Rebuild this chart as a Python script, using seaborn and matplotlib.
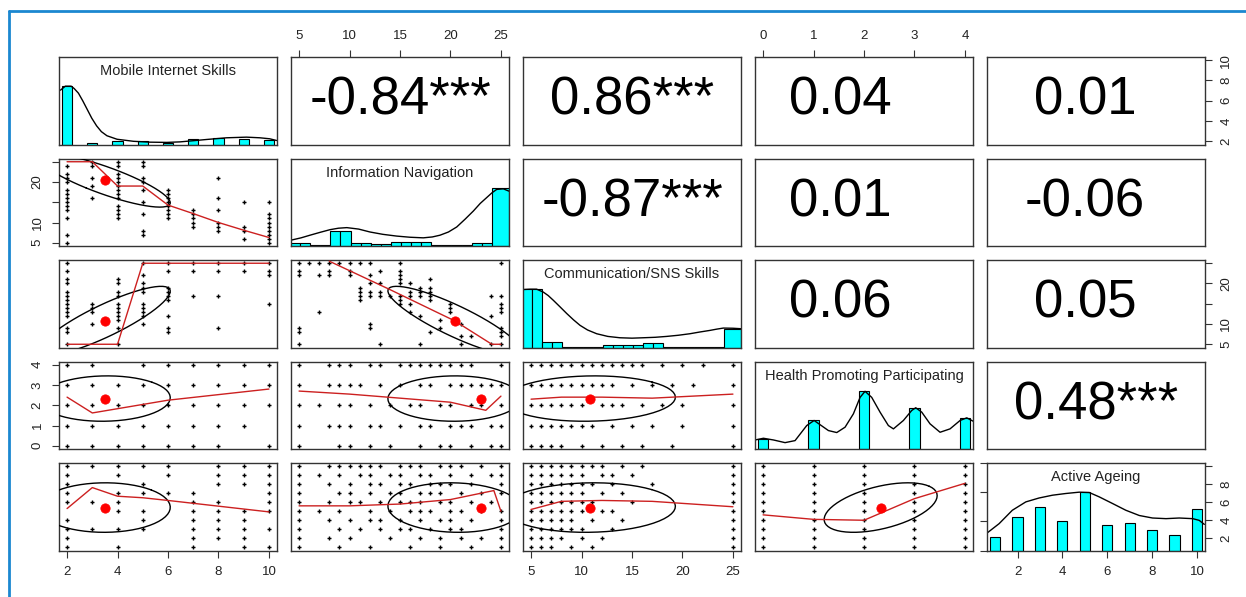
import numpy as np
import matplotlib
matplotlib.use("Agg")
import matplotlib.pyplot as plt
from matplotlib.lines import Line2D
import seaborn as sns

sns.set_theme(style="ticks")
plt.rcParams["font.family"] = ["Liberation Sans", "DejaVu Sans"]

# ---------------- data ----------------
var_names = ["Mobile Internet Skills", "Information Navigation",
             "Communication/SNS Skills", "Health Promoting Participating",
             "Active Ageing"]
var_ranges = [(2, 10), (5, 25), (5, 25), (0, 4), (1, 10)]
var_means = [3.49, 20.4, 10.8, 2.33, 5.41]
var_sds = [2.6, 6.6, 8.5, 1.12, 2.75]
# red mean markers whose position differs from the ellipse centre in the picture
dot_override = {(3, 1): (23.0, 2.33), (4, 1): (23.0, 5.41)}

# correlations (upper triangle) -> text
corr_r = {(0, 1): -0.84, (0, 2): 0.86, (0, 3): 0.04, (0, 4): 0.01,
          (1, 2): -0.87, (1, 3): 0.01, (1, 4): -0.06,
          (2, 3): 0.06, (2, 4): 0.05, (3, 4): 0.48}
corr_stars = {(0, 1): "***", (0, 2): "***", (1, 2): "***", (3, 4): "***"}

# diagonal histograms (relative heights) and density curves
mob_bar_x = [2, 3, 4, 5, 6, 7, 8, 9, 10]
mob_bar_h = [1.0, 0.03, 0.057, 0.057, 0.03, 0.092, 0.11, 0.10, 0.07]
mob_dens_x = [1.735, 1.93, 2.16, 2.28, 2.45, 2.62, 2.8, 2.98, 3.17, 3.36, 3.58, 3.98, 4.63,
              5.29, 5.95, 6.48, 7.0, 7.53, 8.32, 9.11, 9.64, 10.03, 10.3]
mob_dens_y = [0.931, 1.0, 1.0, 0.96, 0.88, 0.75, 0.60, 0.45, 0.32, 0.22, 0.15, 0.09, 0.055,
              0.04, 0.036, 0.045, 0.065, 0.086, 0.115, 0.126, 0.115, 0.098, 0.069]

bin_edges_5_25 = [4.1, 5.1, 6.1, 7.1, 8.1, 9.1, 10.1, 11.1, 12.1, 13.1, 14.1, 15.1,
                  16.1, 17.1, 18.1, 19.1, 20.1, 21.1, 22.1, 23.1, 24.1, 25.8]
nav_bar_h = [0.045, 0.045, 0.01, 0.01, 0.25, 0.25, 0.056, 0.056, 0.035, 0.035, 0.07,
             0.07, 0.07, 0.07, 0.01, 0.01, 0.01, 0.01, 0.045, 0.045, 1.0]
nav_dens_x = [4.2, 5.2, 6.08, 7.1, 8.07, 8.9, 9.73, 10.9, 12.03, 13.3, 14.67, 16.0, 17.31, 18.2,
              18.96, 19.8, 20.62, 21.45, 22.27, 22.95, 23.59, 24.1, 24.58, 25.24, 25.8]
nav_dens_y = [0.10, 0.14, 0.185, 0.235, 0.28, 0.305, 0.315, 0.29, 0.24, 0.20, 0.17, 0.15, 0.14,
              0.155, 0.185, 0.24, 0.326, 0.46, 0.60, 0.73, 0.83, 0.91, 0.97, 0.98, 0.94]

com_bar_h = [1.0, 1.0, 0.1, 0.1, 0.01, 0.01, 0.01, 0.01, 0.04, 0.04, 0.04, 0.04,
             0.07, 0.07, 0.01, 0.01, 0.01, 0.01, 0.01, 0.01, 0.31]
com_dens_x = [4.2, 4.9, 5.55, 6.21, 6.7, 7.2, 7.85, 8.53, 9.2, 9.85, 10.6, 11.5, 12.6, 13.8,
              15.0, 16.12, 17.3, 18.43, 19.6, 20.74, 21.7, 22.72, 23.4, 24.05, 25.0, 25.8]
com_dens_y = [0.994, 1.0, 1.0, 0.95, 0.89, 0.81, 0.70, 0.583, 0.475, 0.38, 0.30, 0.236, 0.19,
              0.167, 0.16, 0.167, 0.175, 0.19, 0.21, 0.236, 0.265, 0.293, 0.315, 0.333, 0.33, 0.322]

hea_bar_x = [0, 1, 2, 3, 4]
hea_bar_h = [0.18, 0.49, 1.0, 0.71, 0.53]
hea_dens_x = [-0.159, 0.007, 0.205, 0.436, 0.634, 0.865, 1.011, 1.162, 1.295, 1.46, 1.625,
              1.79, 1.922, 2.021, 2.153, 2.318, 2.483, 2.583, 2.781, 2.946, 3.025, 3.144,
              3.309, 3.507, 3.705, 3.904, 4.036, 4.161]
hea_dens_y = [0.155, 0.184, 0.155, 0.109, 0.144, 0.402, 0.489, 0.397, 0.316, 0.282, 0.374,
              0.603, 0.885, 0.989, 0.885, 0.632, 0.402, 0.345, 0.489, 0.661, 0.707, 0.632,
              0.431, 0.287, 0.345, 0.489, 0.534, 0.477]

act_bar_x = [1, 2, 3, 4, 5, 6, 7, 8, 9, 10]
act_bar_h = [0.23, 0.575, 0.747, 0.50, 1.0, 0.44, 0.477, 0.36, 0.27, 0.718]
act_dens_x = [0.6, 1.18, 1.77, 2.37, 2.96, 3.56, 4.15, 4.75, 5.2, 5.64, 6.24, 6.83, 7.43, 8.02,
              8.62, 9.21, 9.81, 10.1, 10.33]
act_dens_y = [0.287, 0.46, 0.69, 0.833, 0.90, 0.948, 0.977, 1.0, 0.994, 0.92, 0.805, 0.69, 0.60,
              0.557, 0.546, 0.557, 0.546, 0.517, 0.448]

# lower panels: scatter points, keyed by x value -> list of y values
pts_nav_mob = {2: [24, 22, 21, 20, 18, 17, 16, 15, 14, 13, 11, 7, 5], 3: [25, 24, 21, 19, 16],
               4: [25, 24, 22, 21, 20, 19, 18, 17, 16, 14, 13, 12, 11],
               5: [25, 24, 21, 20, 18, 15, 12, 8, 7], 6: [18, 17, 16, 15, 14, 13, 12, 11],
               7: [13, 12, 11, 10, 9], 8: [21, 16, 13, 10, 9, 8], 9: [15, 9, 8, 6],
               10: [15, 12, 11, 10, 9, 8, 7, 6, 5]}
pts_com_mob = {2: [25, 23, 21, 20, 18, 17, 16, 15, 14, 13, 12, 9, 8, 5], 3: [15, 14, 13, 10],
               4: [21, 20, 18, 17, 15, 14, 13, 12, 11, 9, 5],
               5: [25, 22, 20, 19, 18, 15, 14, 13, 12, 10], 6: [25, 23, 19, 18, 17, 16, 12, 9, 8],
               7: [25, 23, 17], 8: [25, 23, 17, 9], 9: [25, 23], 10: [25, 23, 22, 15]}
pts_hea_mob = {2: [0, 1, 2, 3, 4], 3: [0, 1, 2, 3, 4], 4: [0, 1, 2, 3], 5: [0, 1, 2, 3, 4],
               6: [0, 1, 2, 3, 4], 7: [0, 1, 2, 3, 4], 8: [0, 1, 2, 3, 4], 9: [1, 2, 3, 4],
               10: [0, 2, 3, 4]}
pts_act_mob = {2: [10, 9, 8, 7, 6, 4, 3, 2, 1], 3: [10, 6, 3], 4: [10, 9, 7, 6, 5, 3, 1],
               5: [10, 8, 7, 5, 4, 3], 6: [10, 9, 7], 7: [7, 6, 5, 4, 3, 2, 1],
               8: [10, 9, 8, 6, 5, 4, 3, 2], 9: [10, 9, 8, 5, 4, 3, 2, 1],
               10: [10, 9, 8, 7, 6, 5, 3, 1]}
# keyed by y value -> list of x values
pts_com_nav = {25: [5, 6, 7, 8, 9, 10, 11, 12, 15, 25], 23: [5, 8, 10, 13, 15], 22: [5, 7, 8, 10, 12, 15],
               21: [15, 18], 20: [12, 13, 15, 16], 19: [11, 17, 18], 18: [11, 12, 13, 16, 17, 18],
               17: [11, 12, 13, 14, 15, 16, 17, 18, 24, 25], 16: [11, 15, 18], 15: [15, 16, 20, 25],
               14: [20, 25], 13: [7, 16, 20, 25], 12: [17, 24], 11: [19], 10: [12, 21],
               9: [5, 12, 19, 25], 8: [5, 18, 25], 7: [21, 22, 25], 5: [5, 13, 17, 21, 24, 25]}
pts_hea_nav = {4: [5, 8, 9, 10, 12, 13, 15, 16, 17, 18, 19, 20, 21, 22, 25],
               3: [5, 8, 9, 10, 11, 13, 15, 17, 18, 20, 21, 22, 23, 24, 25],
               2: [5, 7, 9, 10, 12, 14, 16, 17, 19, 20, 22, 23, 25],
               1: [5, 8, 9, 10, 12, 13, 15, 17, 18, 20, 21, 22, 24, 25],
               0: [5, 9, 10, 12, 14, 17, 19, 20, 22, 24, 25]}
pts_act_nav = {10: [5, 8, 9, 10, 11, 12, 13, 15, 16, 17, 19, 20, 21, 23, 25],
               9: [5, 7, 9, 11, 12, 14, 15, 17, 18, 20, 22, 24, 25],
               8: [5, 8, 10, 12, 13, 15, 16, 18, 19, 20, 22, 25],
               7: [5, 9, 10, 12, 14, 15, 17, 18, 19, 21, 23, 25],
               6: [5, 8, 10, 11, 13, 15, 16, 17, 19, 20, 22, 24],
               5: [5, 7, 9, 12, 14, 16, 17, 18, 20, 21, 23, 25],
               4: [5, 8, 10, 12, 13, 15, 17, 19, 20, 22, 25],
               3: [5, 9, 11, 13, 15, 16, 18, 20, 21, 25],
               2: [5, 8, 10, 14, 17, 19, 21, 23, 25], 1: [5, 9, 12, 16, 19, 22, 25]}
pts_hea_com = {4: [5, 6, 7, 8, 9, 10, 11, 12, 13, 14, 15, 16, 18, 20, 22, 25],
               3: [5, 6, 7, 8, 9, 10, 11, 12, 13, 15, 17, 19, 21, 25],
               2: [5, 6, 7, 8, 9, 10, 12, 13, 14, 16, 18, 20, 25],
               1: [5, 6, 7, 8, 9, 10, 11, 13, 15, 17, 20, 25],
               0: [5, 6, 7, 8, 10, 12, 14, 16, 19, 25]}
pts_act_com = {10: [5, 6, 7, 8, 9, 10, 11, 12, 14, 16, 25], 9: [5, 6, 7, 8, 9, 10, 12, 13, 15, 25],
               8: [5, 6, 7, 8, 9, 10, 11, 13, 17, 25], 7: [5, 6, 7, 8, 9, 10, 12, 14, 25],
               6: [5, 6, 7, 8, 9, 10, 11, 15, 25], 5: [5, 6, 7, 8, 9, 10, 12, 13, 25],
               4: [5, 6, 7, 8, 9, 11, 14, 25], 3: [5, 6, 7, 8, 9, 10, 13, 25],
               2: [5, 6, 7, 8, 10, 12, 25], 1: [5, 6, 7, 9, 11, 25]}
pts_act_hea = {0: [10, 9, 8, 7, 6, 5, 4, 3, 2, 1], 1: [10, 9, 8, 7, 6, 5, 4, 3, 2, 1],
               2: [10, 9, 8, 7, 6, 5, 4, 3, 2, 1], 3: [10, 9, 8, 7, 6, 5, 4, 3, 2, 1],
               4: [10, 9, 8, 7, 6, 5, 4, 3, 2, 1]}

# loess smoothers (x list, y list)
sm_nav_mob = ([2, 3, 4, 5, 6, 7, 8, 9, 10], [25, 25, 19, 19, 14.3, 12.2, 10, 8.1, 6.3])
sm_com_mob = ([2, 4, 5, 10], [5, 5, 25, 25])
sm_hea_mob = ([2, 3, 6, 10], [2.4, 1.62, 2.25, 2.8])
sm_act_mob = ([2, 3, 4, 5, 6, 10], [5.3, 7.63, 6.67, 6.5, 6.2, 4.93])
sm_com_nav = ([8, 14, 20.4, 24.1, 25], [25.5, 18.5, 10.8, 5, 5])
sm_hea_nav = ([5, 10, 15, 20, 23.5, 25], [2.7, 2.55, 2.35, 2.15, 1.75, 2.45])
sm_act_nav = ([5, 10, 15, 20, 24.3, 25], [5.6, 5.6, 5.8, 6.3, 7.3, 5.0])
sm_hea_com = ([5, 8, 12, 17, 25], [2.3, 2.4, 2.4, 2.35, 2.55])
sm_act_com = ([5, 8, 12, 17, 25], [5.2, 6.1, 6.2, 6.1, 5.5])
sm_act_hea = ([0, 1, 2, 3, 4], [4.6, 4.1, 4.0, 6.4, 8.1])

lower = {
    (1, 0): (pts_nav_mob, "x", sm_nav_mob), (2, 0): (pts_com_mob, "x", sm_com_mob),
    (3, 0): (pts_hea_mob, "x", sm_hea_mob), (4, 0): (pts_act_mob, "x", sm_act_mob),
    (2, 1): (pts_com_nav, "y", sm_com_nav), (3, 1): (pts_hea_nav, "y", sm_hea_nav),
    (4, 1): (pts_act_nav, "y", sm_act_nav), (3, 2): (pts_hea_com, "y", sm_hea_com),
    (4, 2): (pts_act_com, "y", sm_act_com), (4, 3): (pts_act_hea, "x", sm_act_hea),
}
diag = {
    0: (mob_bar_x, mob_bar_h, 0.4, None, mob_dens_x, mob_dens_y),
    1: (None, nav_bar_h, None, bin_edges_5_25, nav_dens_x, nav_dens_y),
    2: (None, com_bar_h, None, bin_edges_5_25, com_dens_x, com_dens_y),
    3: (hea_bar_x, hea_bar_h, 0.2, None, hea_dens_x, hea_dens_y),
    4: (act_bar_x, act_bar_h, 0.45, None, act_dens_x, act_dens_y),
}

tick_vals = [[2, 4, 6, 8, 10], [5, 10, 15, 20, 25], [5, 10, 15, 20, 25], [0, 1, 2, 3, 4], [2, 4, 6, 8, 10]]
tick_labs = [["2", "4", "6", "8", "10"], ["5", "10", "15", "20", "25"], ["5", "10", "15", "20", "25"],
             ["0", "1", "2", "3", "4"], ["2", "4", "6", "8", "10"]]
ylab_side = [["2", "4", "6", "8", "10"], ["5", "10", "", "20", ""], ["5", "10", "", "20", ""],
             ["0", "1", "2", "3", "4"], ["2", "4", "6", "8", ""]]

# ---------------- layout ----------------
W, H = 1246, 597
fig = plt.figure(figsize=(W / 100, H / 100), dpi=100)
col_left = [59, 291, 523, 755, 987]
row_top = [57, 158.5, 260, 361.5, 463]
pw, ph = 218, 87.5
FRAME = "#333333"
TICKC = "#333333"
LS = 9.5


def lim(k):
    lo, hi = var_ranges[k]
    d = (hi - lo) * 0.04
    return lo - d, hi + d


def style(ax):
    for s in ax.spines.values():
        s.set_visible(True)
        s.set_color(FRAME)
        s.set_linewidth(1.0)
    ax.tick_params(which="both", bottom=False, top=False, left=False, right=False,
                   labelbottom=False, labeltop=False, labelleft=False, labelright=False,
                   direction="out", length=5, width=0.8, color=TICKC, labelsize=LS,
                   labelcolor="#222222", pad=6)


def ellipse(xm, ym, xs, ys, r, n=60):
    a = np.linspace(0, 2 * np.pi, n)
    th = np.sign(r) / np.sqrt(2) if abs(r) > 0 else 1 / np.sqrt(2)
    ca, cb = np.sqrt(1 + r), np.sqrt(1 - r)
    ex = np.cos(a) * ca * th - np.sin(a) * cb * th
    ey = np.cos(a) * ca * th + np.sin(a) * cb * th
    return ex * xs + xm, ey * ys + ym


axes = {}
for i in range(5):
    for j in range(5):
        ax = fig.add_axes([col_left[j] / W, 1 - (row_top[i] + ph) / H, pw / W, ph / H])
        axes[(i, j)] = ax
        style(ax)
        ax.set_xlim(*lim(j))
        if i == j:
            bx, bh, bw, edges, dx, dy = diag[i]
            if edges is not None:
                lefts = np.array(edges[:-1])
                widths = np.diff(edges)
                ax.bar(lefts, bh, width=widths, align="edge", color="#00FFFF",
                       edgecolor="black", linewidth=0.8)
            else:
                ax.bar(bx, bh, width=bw, color="#00FFFF", edgecolor="black", linewidth=0.8)
            sns.lineplot(x=dx, y=dy, ax=ax, color="black", linewidth=1.0, sort=False,
                         estimator=None)
            ax.set_ylim(0, 1.5)
            ax.text(0.5, 0.835, var_names[i], transform=ax.transAxes, ha="center",
                    va="center", fontsize=10.5, color="#222222")
        elif i < j:
            ax.set_ylim(*lim(i))
            r = corr_r[(i, j)]
            stars = corr_stars.get((i, j), "")
            txt = f"{r:.2f}{stars}"
            xpos = 0.5 if stars else (0.39 if j == 3 else 0.45)
            ax.text(xpos, 0.5, txt, transform=ax.transAxes, ha="center", va="center",
                    fontsize=38, color="black")
        else:
            ax.set_ylim(*lim(i))
            pts, key, sm = lower[(i, j)]
            xs, ys = [], []
            for k, vals in pts.items():
                for v in vals:
                    if key == "x":
                        xs.append(k); ys.append(v)
                    else:
                        xs.append(v); ys.append(k)
            sns.scatterplot(x=xs, y=ys, ax=ax, marker="+", s=10, color="black",
                            linewidth=1.0, legend=False, zorder=3)
            r = corr_r[(j, i)]
            ex, ey = ellipse(var_means[j], var_means[i], var_sds[j], var_sds[i], r)
            ax.plot(ex, ey, color="black", linewidth=1.0, zorder=4)
            sns.lineplot(x=sm[0], y=sm[1], ax=ax, color="#cc2020", linewidth=1.0,
                         sort=False, estimator=None, zorder=5)
            mx, my = dot_override.get((i, j), (var_means[j], var_means[i]))
            sns.scatterplot(x=[mx], y=[my], ax=ax, s=45, color="red",
                            edgecolor="red", legend=False, zorder=6)
        ax.set_xlabel(""); ax.set_ylabel("")

# axis ticks (outer panels)
for j in (0, 2, 4):
    ax = axes[(4, j)]
    ax.set_xticks(tick_vals[j]); ax.set_xticklabels(tick_labs[j])
    ax.tick_params(axis="x", bottom=True, labelbottom=True)
for j in (1, 3):
    ax = axes[(0, j)]
    ax.set_xticks(tick_vals[j]); ax.set_xticklabels(tick_labs[j])
    ax.tick_params(axis="x", top=True, labeltop=True)
for i in (1, 3):
    ax = axes[(i, 0)]
    ax.set_yticks(tick_vals[i]); ax.set_yticklabels(ylab_side[i], rotation=90, va="center")
    ax.tick_params(axis="y", left=True, labelleft=True)
for i in (0, 2):
    ax = axes[(i, 4)]
    ax.set_yticks(tick_vals[i]); ax.set_yticklabels(ylab_side[i], rotation=90, va="center")
    ax.tick_params(axis="y", right=True, labelright=True)
# bottom-right diagonal: right axis in variable units
tw = axes[(4, 4)].twinx()
tw.set_ylim(*lim(4))
for s in tw.spines.values():
    s.set_visible(False)
tw.set_yticks(tick_vals[4]); tw.set_yticklabels(ylab_side[4], rotation=90, va="center")
tw.tick_params(axis="y", right=True, labelright=True, direction="out", length=5, width=0.8,
               color=TICKC, labelsize=LS, labelcolor="#222222", pad=6)

# blue frame of the screenshot
fig.add_artist(Line2D([9 / W, 9 / W], [0, 1 - 11 / H], transform=fig.transFigure,
                      color="#1b87d0", linewidth=2))
fig.add_artist(Line2D([9 / W, 1], [1 - 11 / H, 1 - 11 / H], transform=fig.transFigure,
                      color="#1b87d0", linewidth=2))

fig.savefig("out.png", dpi=100, facecolor="white")
